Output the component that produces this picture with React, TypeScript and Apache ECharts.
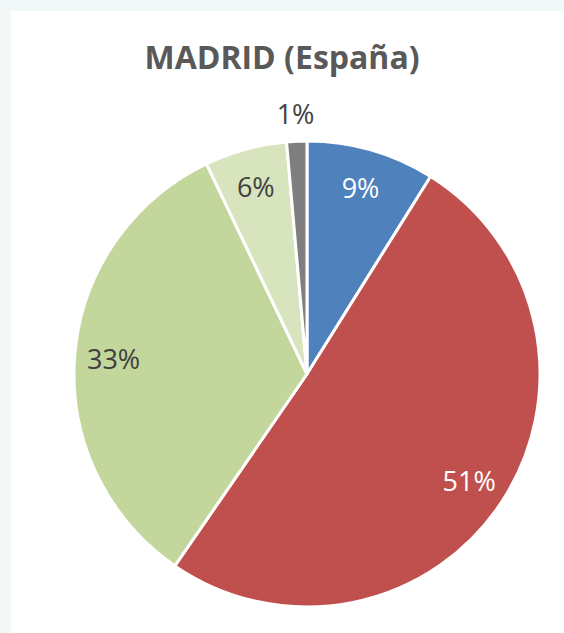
import React, { useEffect, useRef } from "react";
import * as echarts from "echarts";

const TITLE = "MADRID (España)";
const categories = ["Categoría 1", "Categoría 2", "Categoría 3", "Categoría 4", "Categoría 5"];
const values = [8.9, 50.7, 33.3, 5.7, 1.4];
const colors = ["#4f81bd", "#c0504d", "#c3d69b", "#d7e4bd", "#7f7f7f"];
const labelColors = ["#ffffff", "#ffffff", "#404040", "#404040", "#404040"];
const outsideLabel = [false, false, false, false, true];

export default function App() {
  const ref = useRef<HTMLDivElement>(null);
  useEffect(() => {
    if (!ref.current) return;
    const chart = echarts.init(ref.current, undefined, { renderer: "svg" });
    const cx = 307;
    const cy = 374;
    const r = 233;
    const fmt = (p: any) => Math.round(p.value) + "%";
    const labelStyle = (i: number, show: boolean) => ({
      show,
      position: "inside",
      formatter: fmt,
      color: labelColors[i],
      fontFamily: "Open Sans",
      fontSize: 27,
    });
    chart.setOption({
      animation: false,
      backgroundColor: "#f2f8f8",
      graphic: [
        {
          type: "rect",
          shape: { x: 11, y: 11, width: 600, height: 700 },
          style: { fill: "#ffffff" },
          z: -10,
          silent: true,
        },
      ],
      title: {
        text: TITLE,
        left: "center",
        top: 35,
        textStyle: { fontFamily: "Open Sans", fontWeight: "bold", fontSize: 32, color: "#595959" },
      },
      series: [
        {
          type: "pie",
          center: [cx, cy],
          radius: r,
          startAngle: 90,
          clockwise: true,
          silent: true,
          label: { show: false },
          labelLine: { show: false },
          itemStyle: { borderColor: "#ffffff", borderWidth: 3 },
          data: values.map((v, i) => ({ name: categories[i], value: v, itemStyle: { color: colors[i] } })),
        },
        {
          type: "pie",
          center: [cx, cy],
          radius: r * 1.64,
          startAngle: 90,
          clockwise: true,
          silent: true,
          z: 5,
          labelLine: { show: false },
          itemStyle: { color: "transparent", borderWidth: 0 },
          data: values.map((v, i) => ({
            name: categories[i],
            value: v,
            itemStyle: { color: "transparent" },
            label: labelStyle(i, !outsideLabel[i]),
          })),
        },
        {
          type: "pie",
          center: [cx, cy],
          radius: r * 2.21,
          startAngle: 90,
          clockwise: true,
          silent: true,
          z: 5,
          labelLine: { show: false },
          itemStyle: { color: "transparent", borderWidth: 0 },
          data: values.map((v, i) => ({
            name: categories[i],
            value: v,
            itemStyle: { color: "transparent" },
            label: labelStyle(i, outsideLabel[i]),
          })),
        },
      ],
    });
    return () => chart.dispose();
  }, []);
  return (
    <div style={{ position: "fixed", left: 0, top: 0, width: 564, height: 633 }}>
      <div ref={ref} style={{ width: 564, height: 633 }} />
    </div>
  );
}
